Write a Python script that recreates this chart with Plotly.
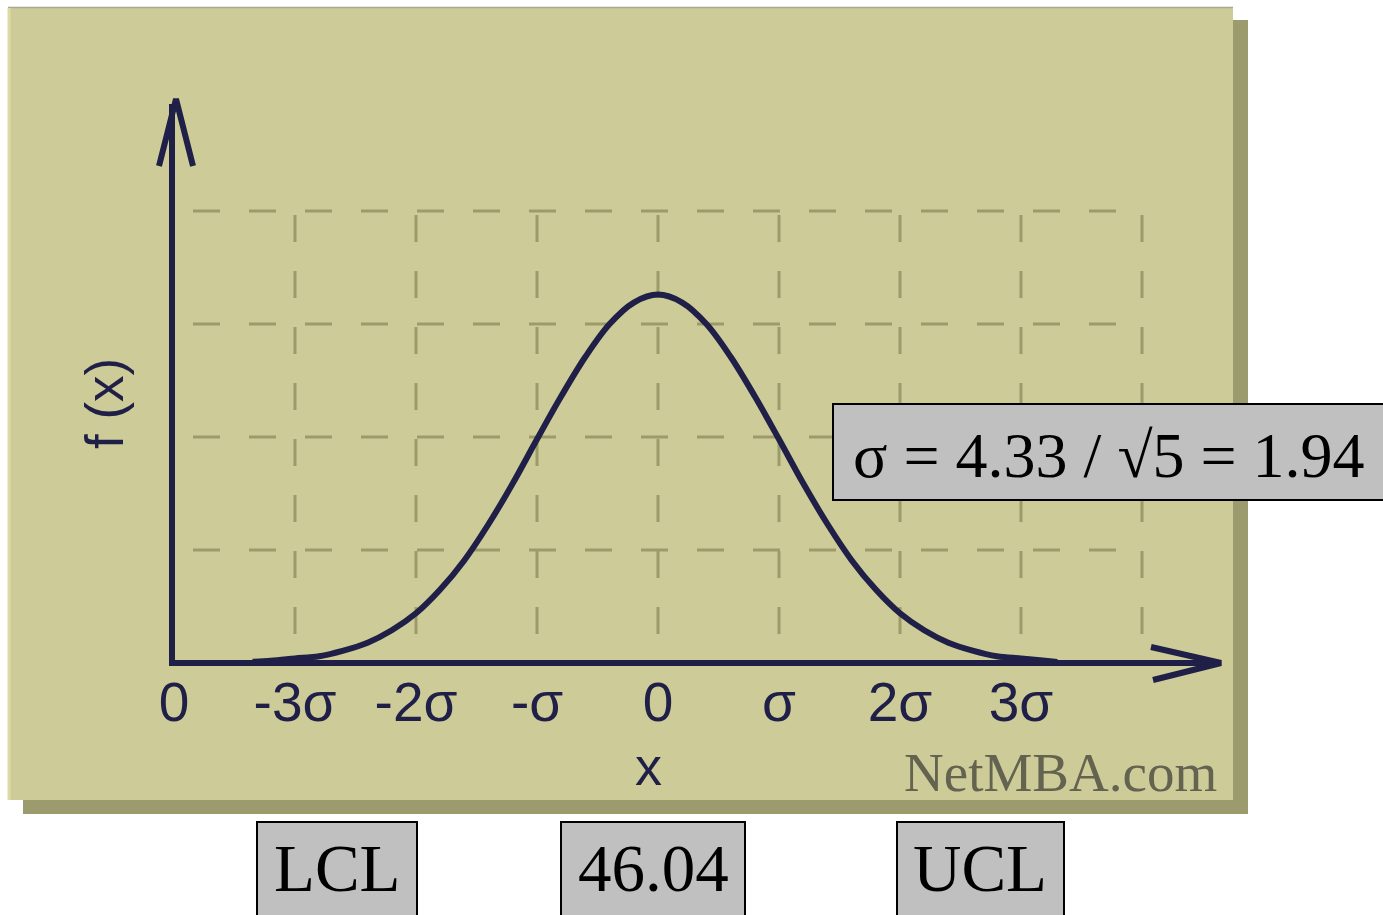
import plotly.graph_objects as go

# ---------------- data ----------------
# x in units of sigma, y in grid units (one horizontal grid step = 1)
curve_x = [-3.35, -3.2, -3.0, -2.8, -2.6, -2.4, -2.2, -2.0, -1.8, -1.6, -1.4, -1.2, -1.0,
           -0.8, -0.6, -0.4, -0.2, 0.0, 0.2, 0.4, 0.6, 0.8, 1.0, 1.2, 1.4, 1.6, 1.8,
           2.0, 2.2, 2.4, 2.6, 2.8, 3.0, 3.2, 3.3]
curve_y = [0.01, 0.02, 0.04, 0.06, 0.11, 0.18, 0.29, 0.44, 0.65, 0.91, 1.23, 1.59, 1.98,
           2.36, 2.71, 3.00, 3.19, 3.26, 3.19, 3.00, 2.71, 2.36, 1.98, 1.59, 1.23, 0.91, 0.65,
           0.44, 0.29, 0.18, 0.11, 0.06, 0.04, 0.02, 0.01]

tick_vals = [-4, -3, -2, -1, 0, 1, 2, 3]
tick_text = ["0", "-3σ", "-2σ", "-σ", "0", "σ", "2σ", "3σ"]
grid_x = [-3, -2, -1, 0, 1, 2, 3, 4]
grid_y = [1, 2, 3, 4]

y_title = "f (x)"
x_title = "x"
watermark = "NetMBA.com"
sigma_label = "σ = 4.33 / √5 = 1.94"
bottom_labels = ["LCL", "46.04", "UCL"]

# ---------------- geometry / style ----------------
W, H = 1383, 915
L, R, T, B = 172, 1222, 98, 663          # plot area in pixels
X0PX, XSTEP = 658, 121.0                 # pixel of x=0, pixels per sigma
YSTEP = 113.0                            # pixels per grid unit

NAVY = "#1f1f47"
PANEL = "#cdcc99"
SHADOW = "#9c9b6d"
GRID = "#9d9b6b"


def px(p):
    return (p - L) / (R - L)


def py(p):
    return (B - p) / (B - T)


fig = go.Figure()

fig.add_trace(go.Scatter(
    x=curve_x, y=curve_y, mode="lines",
    line=dict(color=NAVY, width=6, shape="spline", smoothing=1.0),
    hoverinfo="skip", showlegend=False,
))

shapes = []
# drop shadow and panel
shapes.append(dict(type="rect", xref="paper", yref="paper", layer="below",
                   x0=px(23), x1=px(1248), y0=py(20), y1=py(814),
                   fillcolor=SHADOW, line=dict(width=0)))
shapes.append(dict(type="rect", xref="paper", yref="paper", layer="below",
                   x0=px(8), x1=px(1233), y0=py(7), y1=py(800),
                   fillcolor=PANEL, line=dict(width=0)))
shapes.append(dict(type="line", xref="paper", yref="paper", layer="below",
                   x0=px(8), x1=px(1233), y0=py(7.5), y1=py(7.5),
                   line=dict(color="#a9a890", width=1.5)))
shapes.append(dict(type="line", xref="paper", yref="paper", layer="below",
                   x0=px(9), x1=px(9), y0=py(8), y1=py(800),
                   line=dict(color="#dcdba6", width=3)))

# dashed grid
for gy in grid_y:
    shapes.append(dict(type="line", xref="x", yref="y", layer="below",
                       x0=(193 - X0PX) / XSTEP, x1=(1140 - X0PX) / XSTEP, y0=gy, y1=gy,
                       line=dict(color=GRID, width=3, dash="27px,29px")))
for gx in grid_x:
    shapes.append(dict(type="line", xref="x", yref="y", layer="below",
                       x0=gx, x1=gx, y0=(B - 215) / YSTEP, y1=(B - 640) / YSTEP,
                       line=dict(color=GRID, width=3, dash="27px,29px")))

# axes with arrow heads
shapes.append(dict(type="line", xref="paper", yref="paper",
                   x0=px(172), x1=px(172), y0=py(666), y1=py(104),
                   line=dict(color=NAVY, width=6)))
shapes.append(dict(type="line", xref="paper", yref="paper",
                   x0=px(169), x1=px(1216), y0=py(663), y1=py(663),
                   line=dict(color=NAVY, width=6)))
shapes.append(dict(type="path", xref="paper", yref="paper",
                   path=f"M {px(159)},{py(166)} L {px(176)},{py(99)} L {px(193)},{py(166)}",
                   line=dict(color=NAVY, width=6)))
shapes.append(dict(type="path", xref="paper", yref="paper",
                   path=f"M {px(1151)},{py(647)} L {px(1221)},{py(663)} L {px(1153)},{py(680)}",
                   line=dict(color=NAVY, width=6)))

# sigma box
shapes.append(dict(type="rect", xref="paper", yref="paper",
                   x0=px(833), x1=px(1395), y0=py(404), y1=py(500),
                   fillcolor="#c0c0c0", line=dict(color="black", width=2)))

# bottom boxes
box_px = [(257, 417), (561, 745), (897, 1064)]
for (a, b) in box_px:
    shapes.append(dict(type="rect", xref="paper", yref="paper",
                       x0=px(a), x1=px(b), y0=py(822), y1=py(930),
                       fillcolor="#c0c0c0", line=dict(color="black", width=2)))

annotations = []
annotations.append(dict(xref="paper", yref="paper", x=px(104), y=py(404),
                        text=y_title, showarrow=False, textangle=-90,
                        font=dict(family="Liberation Sans, Arial", size=53, color=NAVY),
                        xanchor="center", yanchor="middle"))
annotations.append(dict(xref="paper", yref="paper", x=px(648), y=py(766),
                        text=x_title, showarrow=False,
                        font=dict(family="Liberation Sans, Arial", size=54, color=NAVY),
                        xanchor="center", yanchor="middle"))
annotations.append(dict(xref="paper", yref="paper", x=px(1219), y=py(772),
                        text=watermark, showarrow=False,
                        font=dict(family="Liberation Serif, Times New Roman", size=55, color="#636350"),
                        xanchor="right", yanchor="middle"))
annotations.append(dict(xref="paper", yref="paper", x=px(851), y=py(455),
                        text=sigma_label, showarrow=False,
                        font=dict(family="Liberation Serif, Times New Roman", size=64, color="black"),
                        xanchor="left", yanchor="middle"))
centers = [337, 653, 980]
for lab, c in zip(bottom_labels, centers):
    annotations.append(dict(xref="paper", yref="paper", x=px(c), y=py(868),
                            text=lab, showarrow=False,
                            font=dict(family="Liberation Serif, Times New Roman", size=67, color="black"),
                            xanchor="center", yanchor="middle"))

fig.update_layout(
    width=W, height=H,
    margin=dict(l=L, r=W - R, t=T, b=H - B, pad=0),
    paper_bgcolor="white", plot_bgcolor="rgba(0,0,0,0)",
    showlegend=False,
    shapes=shapes, annotations=annotations,
    xaxis=dict(range=[(L - X0PX) / XSTEP, (R - X0PX) / XSTEP],
               showgrid=False, zeroline=False, showline=False,
               tickmode="array", tickvals=tick_vals, ticktext=tick_text,
               ticks="", ticklabelstandoff=2,
               tickfont=dict(family="Liberation Sans, Arial", size=55, color=NAVY),
               fixedrange=True),
    yaxis=dict(range=[0, (B - T) / YSTEP],
               showgrid=False, zeroline=False, showline=False,
               showticklabels=False, ticks="", fixedrange=True),
)

fig.write_html("out.html")
